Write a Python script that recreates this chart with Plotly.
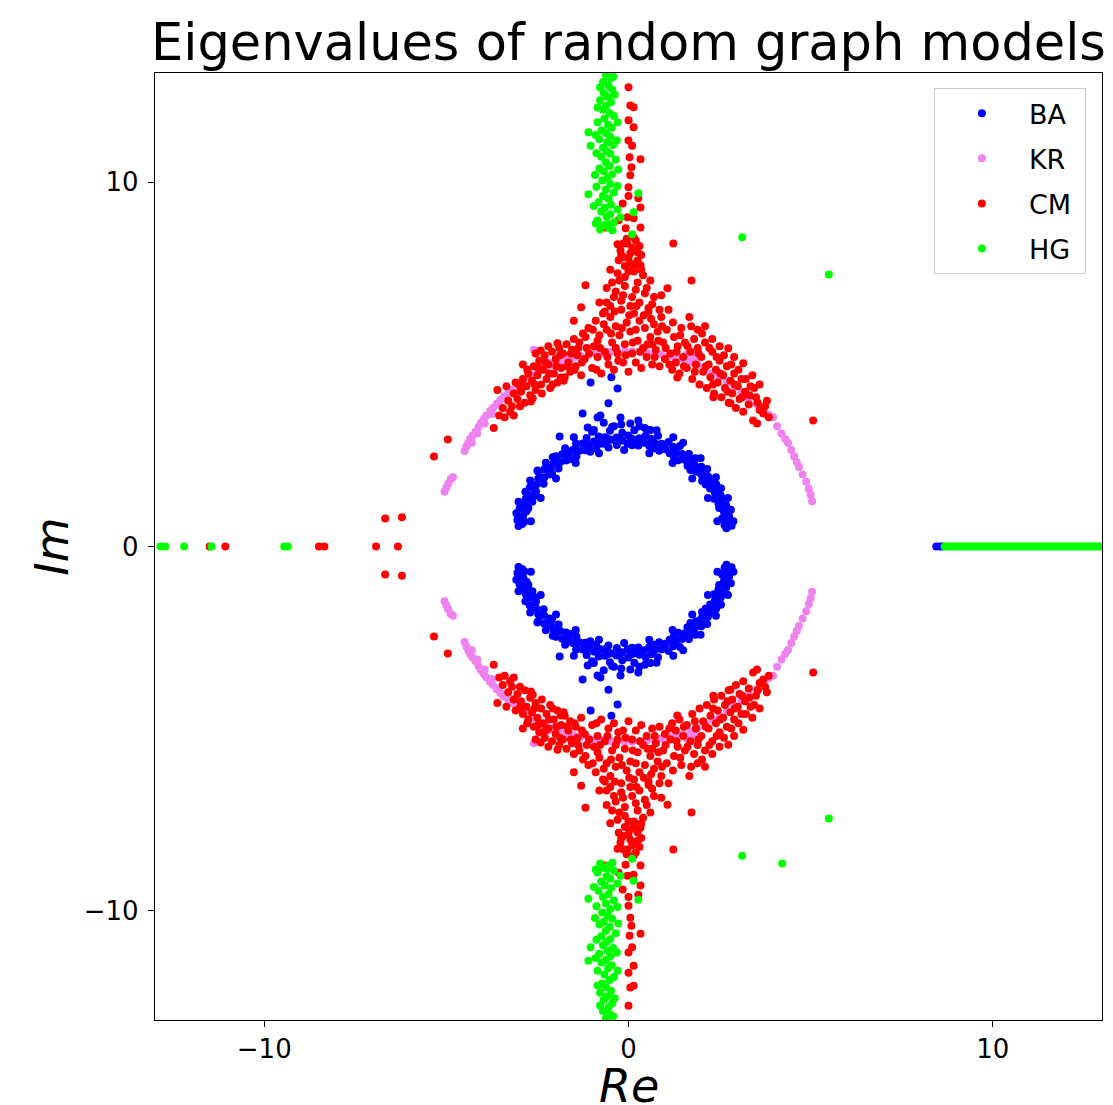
import plotly.graph_objects as go

# Eigenvalues read from the picture. Complex eigenvalues of real matrices come
# in conjugate pairs, so the upper half-plane values are listed and paired with
# their conjugates; real eigenvalues and unpaired points are listed separately.

SERIES = ["BA", "KR", "CM", "HG"]
COLORS = ["blue", "violet", "red", "lime"]

BA_UPPER = [
    (2.69, 0.50), (2.83, 0.57), (2.72, 0.66), (2.88, 0.69), (2.57, 0.77), (2.76, 0.83),
    (2.62, 0.95), (2.81, 1.01), (2.49, 1.06), (2.68, 1.13), (2.55, 1.25), (2.73, 1.33),
    (2.35, 1.31), (2.53, 1.41), (2.37, 1.49), (2.54, 1.60), (2.24, 1.59), (2.41, 1.70),
    (2.24, 1.78), (2.40, 1.90), (2.02, 1.80), (2.18, 1.93), (2.00, 1.98), (2.16, 2.13),
    (1.86, 2.05), (2.00, 2.19), (1.82, 2.23), (1.98, 2.42), (1.62, 2.22), (1.74, 2.38),
    (1.54, 2.38), (1.66, 2.54), (1.36, 2.37), (1.47, 2.54), (1.31, 2.58), (1.41, 2.76),
    (1.13, 2.56), (1.22, 2.74), (1.01, 2.67), (1.10, 2.87), (0.84, 2.63), (0.91, 2.82),
    (0.74, 2.82), (0.81, 3.04), (0.57, 2.76), (0.62, 2.96), (0.43, 2.85), (0.47, 3.04),
    (0.27, 2.77), (0.30, 2.97), (0.14, 2.94), (0.16, 3.19), (-0.02, 2.82), (-0.01, 3.05),
    (-0.17, 2.90), (-0.17, 3.12), (-0.32, 2.79), (-0.33, 2.99), (-0.48, 2.93), (-0.51, 3.18),
    (-0.62, 2.81), (-0.65, 3.00), (-0.77, 2.82), (-0.82, 3.02), (-0.89, 2.69), (-0.95, 2.88),
    (-1.08, 2.79), (-1.15, 2.98), (-1.19, 2.64), (-1.26, 2.83), (-1.35, 2.63), (-1.44, 2.83),
    (-1.43, 2.47), (-1.53, 2.65), (-1.64, 2.53), (-1.74, 2.70), (-1.71, 2.36), (-1.82, 2.53),
    (-1.87, 2.32), (-1.99, 2.48), (-1.92, 2.14), (-2.05, 2.30), (-2.13, 2.16), (-2.27, 2.30),
    (-2.17, 1.98), (-2.31, 2.12), (-2.31, 1.90), (-2.48, 2.05), (-2.33, 1.72), (-2.48, 1.85),
    (-2.54, 1.69), (-2.70, 1.81), (-2.54, 1.51), (-2.71, 1.62), (-2.66, 1.41), (-2.83, 1.50),
    (-2.64, 1.23), (-2.82, 1.31), (-2.84, 1.15), (-3.02, 1.23), (-2.80, 0.97), (-2.99, 1.04),
    (-2.89, 0.85), (-3.08, 0.91), (-2.86, 0.68), (-3.05, 0.73), (-3.02, 0.56), (-2.92, 0.62),
    (2.64, 0.58), (2.47, 1.18), (2.12, 1.70), (1.70, 2.10), (1.25, 2.45), (0.70, 2.70),
    (0.10, 2.78), (-0.55, 2.72), (-1.05, 2.60), (-1.60, 2.40), (-2.10, 2.00), (-2.55, 1.40),
    (-2.75, 1.05),
    (2.76, 0.75), (2.67, 1.04), (2.55, 1.33), (2.39, 1.60), (2.21, 1.86), (2.00, 2.09),
    (1.78, 2.30), (1.52, 2.49), (1.26, 2.64), (0.97, 2.77), (0.68, 2.87), (0.37, 2.94),
    (0.06, 2.97), (-0.25, 2.98), (-0.56, 2.95), (-0.87, 2.88), (-1.16, 2.79), (-1.45, 2.67),
    (-1.72, 2.51), (-1.98, 2.33), (-2.21, 2.12), (-2.42, 1.90), (-2.61, 1.64), (-2.76, 1.38),
    (-2.89, 1.09), (-2.99, 0.80),
    (2.18, 1.33), (1.21, 2.29), (-0.12, 2.65), (0.57, 2.56), (-0.81, 2.56), (-1.45, 2.29),
    (-2.41, 1.33), (1.75, 1.87), (-1.99, 1.87), (2.44, 0.69), (-2.68, 0.69),
    (0.30, 3.30), (-0.20, 3.35), (0.60, 3.20), (-1.00, 3.15), (1.50, 2.85), (-0.45, 3.28),
    (-1.04, 4.50), (-0.47, 4.65), (-0.30, 4.34), (-0.55, 3.93), (-1.26, 3.65), (-0.77, 3.60),
    (0.27, 3.46), (-1.89, 3.02), (0.77, 3.19), (-0.85, 3.54), (-0.68, 3.40), (-0.22, 3.54),
    (0.05, 3.38), (-1.12, 3.27), (-1.50, 3.00), (-2.08, 2.45), (-2.50, 2.09), (1.23, 3.00),
    (1.84, 2.42), (-0.40, 3.30), (0.45, 3.25), (-0.95, 3.20),
]
BA_REAL = [8.45, 8.55, 8.62]

KR_UPPER = [
    (-5.05, 1.50), (-5.00, 1.62), (-4.95, 1.72), (-4.88, 1.85), (-4.82, 1.90),
    (-4.50, 2.62), (-4.45, 2.75), (-4.40, 2.85), (-4.35, 2.95), (-4.28, 3.05), (-4.20, 3.15),
    (-4.12, 3.28), (-4.05, 3.40), (-3.97, 3.50), (-3.90, 3.60), (-3.80, 3.72), (-3.72, 3.80),
    (-3.62, 3.92), (-3.52, 4.02), (-3.42, 4.12), (-3.30, 4.22), (-3.18, 4.30), (-3.05, 4.42),
    (-2.95, 4.50), (-2.80, 4.60), (-2.65, 4.70), (-2.50, 4.78), (-2.30, 4.90), (-2.10, 4.98),
    (-1.90, 5.05), (-1.70, 5.12), (-1.50, 5.18), (-1.30, 5.22), (-1.10, 5.26), (-0.90, 5.30),
    (-0.70, 5.32), (-0.50, 5.34), (-0.30, 5.35), (-0.10, 5.36), (0.10, 5.36), (0.30, 5.35),
    (0.50, 5.33), (0.70, 5.30), (0.90, 5.27), (1.10, 5.22), (1.30, 5.17), (1.50, 5.15),
    (1.70, 5.08), (1.90, 4.98), (2.10, 4.86), (2.30, 4.76), (2.50, 4.65), (2.70, 4.52),
    (2.90, 4.38), (3.10, 4.22), (3.30, 4.08), (3.50, 3.92), (3.70, 3.76), (3.85, 3.62),
    (3.97, 3.55), (4.08, 3.30), (4.20, 3.10), (4.30, 2.95), (4.38, 2.84), (4.47, 2.65),
    (4.55, 2.47), (4.62, 2.32), (4.68, 2.18), (4.78, 1.98), (4.88, 1.78), (4.95, 1.58),
    (5.00, 1.42), (5.04, 1.24),
    (-4.30, 2.85), (-4.15, 3.10), (-3.95, 3.38), (-3.75, 3.64), (-3.55, 3.90), (-3.35, 4.05),
    (-2.60, 5.40), (-2.20, 5.05), (-1.60, 5.28), (1.60, 5.28), (1.80, 5.18),
]

CM_UPPER = [
    # left arm
    (-3.55, 3.60), (-3.45, 3.80), (-3.40, 3.55), (-3.30, 4.00), (-3.20, 3.85), (-3.15, 4.20),
    (-3.05, 4.05), (-3.00, 4.45), (-2.95, 4.25), (-2.90, 4.60), (-2.85, 3.95), (-2.80, 4.40),
    (-2.75, 4.75), (-2.70, 4.15), (-2.65, 4.55), (-2.60, 4.95), (-2.55, 4.30), (-2.50, 4.70),
    (-2.45, 5.10), (-2.40, 4.45), (-2.35, 4.85), (-2.30, 5.25), (-2.25, 4.60), (-2.20, 5.00),
    (-2.15, 4.35), (-2.10, 5.35), (-2.05, 4.75), (-2.00, 5.15), (-1.95, 4.50), (-1.90, 5.45),
    (-1.85, 4.90), (-1.80, 5.30), (-1.75, 4.65), (-1.70, 5.55), (-1.65, 5.05), (-1.60, 4.80),
    (-1.55, 5.40), (-1.50, 5.70), (-1.45, 4.95), (-1.40, 5.25), (-1.35, 5.60), (-1.30, 4.70),
    (-1.25, 5.85), (-1.20, 5.15), (-1.15, 5.45), (-1.10, 6.00), (-3.60, 4.30), (-3.35, 4.40),
    (-2.90, 5.00), (-2.55, 5.30), (-2.20, 5.50), (-3.70, 3.25), (-4.96, 2.94), (-5.34, 2.47),
    (-2.41, 5.38), (-1.95, 5.58), (-1.50, 6.20), (-2.96, 4.29), (-3.15, 3.60), (-2.63, 4.07),
    (-1.86, 4.64), (-1.30, 6.57), (-1.18, 7.17),
    (-3.25, 3.70), (-3.10, 4.50), (-2.98, 3.85), (-2.78, 4.85), (-2.68, 3.98), (-2.58, 4.45),
    (-2.48, 4.90), (-2.38, 4.20), (-2.28, 5.05), (-2.18, 4.75), (-2.08, 4.45), (-1.98, 4.95),
    (-1.88, 5.25), (-1.78, 4.55), (-1.68, 4.95), (-1.58, 5.30), (-1.48, 4.85), (-1.38, 5.45),
    (-1.28, 5.05), (-1.18, 5.75), (-1.08, 5.30),
    # centre
    (-1.00, 4.90), (-0.95, 5.50), (-0.90, 6.20), (-0.85, 5.20), (-0.80, 5.80), (-0.75, 4.75),
    (-0.70, 6.40), (-0.65, 5.35), (-0.60, 5.95), (-0.55, 5.00), (-0.50, 6.30), (-0.45, 5.60),
    (-0.40, 4.85), (-0.35, 6.05), (-0.30, 5.30), (-0.25, 5.80), (-0.20, 6.50), (-0.15, 5.05),
    (-0.10, 5.55), (-0.05, 6.15), (0.00, 4.80), (0.05, 5.90), (0.10, 5.30), (0.15, 6.40),
    (0.20, 5.05), (0.25, 5.65), (0.30, 6.20), (0.35, 4.90), (0.40, 5.45), (0.45, 6.00),
    (0.50, 5.20), (0.55, 6.45), (0.60, 5.75), (0.65, 5.00), (0.70, 6.10), (0.75, 5.40),
    (0.80, 5.90), (0.85, 4.95), (0.90, 6.30), (0.95, 5.60), (1.00, 5.15), (1.05, 5.95),
    (1.10, 6.50), (-0.85, 5.65), (-0.35, 5.45), (0.20, 5.95), (0.65, 5.55), (-0.60, 6.70),
    (-0.98, 5.95), (-0.88, 4.85), (-0.78, 5.45), (-0.68, 6.10), (-0.58, 5.20), (-0.48, 5.85),
    (-0.38, 6.45), (-0.28, 5.10), (-0.18, 6.00), (-0.08, 5.25), (0.02, 6.35), (0.12, 5.60),
    (0.22, 6.60), (0.32, 5.35), (0.42, 6.35), (0.52, 5.55), (0.62, 6.25), (0.72, 5.20),
    (0.82, 5.65), (0.92, 6.05), (1.02, 5.45),
    # spike
    (-0.50, 7.60), (-0.30, 7.50), (-0.10, 7.40), (0.15, 7.55), (0.40, 7.45), (0.60, 7.30),
    (-0.60, 7.10), (-0.35, 7.00), (-0.10, 7.15), (0.20, 7.05), (0.45, 6.95), (0.70, 6.85),
    (-0.80, 6.70), (-0.50, 6.60), (-0.20, 6.75), (0.05, 6.60), (0.30, 6.70), (0.55, 6.55),
    (0.85, 6.50), (0.00, 7.90), (0.25, 7.85), (-0.20, 8.00), (0.10, 8.20), (-0.10, 7.70),
    (0.35, 8.00), (0.90, 6.90), (1.07, 7.09), (1.73, 7.30), (1.67, 6.30), (1.23, 8.32),
    (-0.45, 7.25), (-0.25, 7.30), (0.00, 7.55), (0.25, 7.25), (0.50, 7.10), (-0.15, 6.90),
    (0.10, 6.85), (0.35, 7.60), (-0.40, 6.85), (0.65, 6.65), (-0.65, 6.45), (-0.05, 8.45),
    (0.20, 8.40), (-0.30, 8.30), (0.05, 8.05), (0.30, 8.25), (-0.15, 7.95), (0.15, 7.70),
    # column
    (0.00, 12.61), (0.05, 12.11), (0.14, 12.06), (0.00, 11.70), (0.14, 11.51), (0.00, 11.15),
    (0.10, 11.00), (0.03, 10.69), (0.33, 10.63), (0.08, 10.41), (0.05, 10.19), (0.00, 9.86),
    (0.00, 9.62), (0.27, 9.56), (-0.16, 9.42), (0.33, 9.31), (-0.03, 9.04), (0.14, 9.01),
    (-0.27, 8.96), (0.33, 8.76), (-0.63, 8.76), (-0.08, 8.74), (-0.03, 8.32), (-0.22, 8.13),
    (0.25, 8.08), (-0.27, 7.86), (0.05, 7.77), (0.33, 7.72), (-0.14, 8.32), (0.14, 8.49),
    # right arm
    (1.15, 5.30), (1.20, 4.85), (1.25, 5.75), (1.30, 5.05), (1.35, 5.50), (1.40, 4.75),
    (1.45, 6.00), (1.50, 5.20), (1.55, 5.60), (1.60, 4.90), (1.70, 5.35), (1.75, 4.60),
    (1.80, 5.70), (1.85, 5.00), (1.90, 5.45), (1.95, 4.45), (2.00, 5.20), (2.05, 4.80),
    (2.10, 5.60), (2.15, 4.35), (2.20, 5.00), (2.25, 4.65), (2.30, 5.35), (2.35, 4.20),
    (2.40, 4.85), (2.45, 4.50), (2.50, 5.10), (2.55, 4.10), (2.60, 4.70), (2.65, 4.35),
    (2.70, 4.95), (2.75, 3.95), (2.80, 4.55), (2.85, 4.20), (2.90, 4.75), (2.95, 3.80),
    (3.00, 4.40), (3.05, 4.05), (3.10, 4.60), (3.15, 3.70), (3.20, 4.25), (3.30, 3.90),
    (3.35, 4.40), (3.42, 3.46), (3.50, 4.10), (3.60, 3.75), (3.70, 3.65), (3.80, 4.00),
    (3.53, 3.38), (2.10, 6.05), (2.30, 5.70), (2.50, 5.50), (2.74, 5.44), (2.90, 5.20),
    (3.15, 5.03), (3.40, 4.70), (3.60, 4.45), (1.90, 5.95), (1.34, 4.64), (2.33, 4.10),
    (2.80, 3.93), (5.07, 3.46),
    (1.12, 5.00), (1.22, 6.15), (1.32, 5.35), (1.42, 5.80), (1.52, 4.95), (1.62, 5.50),
    (1.72, 6.05), (1.82, 4.80), (1.92, 5.30), (2.02, 5.85), (2.12, 4.95), (2.22, 5.45),
    (2.32, 4.45), (2.42, 5.20), (2.52, 4.75), (2.62, 5.25), (2.72, 4.25), (2.82, 5.00),
    (2.92, 4.45), (3.02, 4.85), (3.12, 4.10), (3.22, 4.60), (3.32, 4.15), (3.45, 4.35),
    (3.55, 3.95), (3.75, 3.85), (3.85, 3.55),
    # near the real axis
    (-6.68, 0.77), (-6.22, 0.80),
]
CM_REAL = [-11.50, -11.07, -8.50, -8.35, -6.93, -6.33]

HG_UPPER = [
    (-0.62, 12.95), (-0.50, 12.85), (-0.70, 12.75), (-0.55, 12.65), (-0.45, 12.55),
    (-0.68, 12.45), (-0.58, 12.35), (-0.78, 12.25), (-0.48, 12.20), (-0.62, 12.10),
    (-0.72, 12.00), (-0.52, 11.90), (-0.40, 11.82), (-0.66, 11.75), (-0.85, 11.65),
    (-0.56, 11.58), (-0.46, 11.50), (-0.74, 11.42), (-0.62, 11.35), (-0.50, 11.25),
    (-0.80, 11.18), (-0.58, 11.10), (-0.42, 11.02), (-0.70, 10.95), (-0.60, 10.85),
    (-0.50, 10.78), (-0.75, 10.70), (-0.35, 10.62), (-0.62, 10.55), (-0.52, 10.45),
    (-0.80, 10.38), (-0.68, 10.30), (-0.45, 10.22), (-0.58, 10.12), (-0.72, 10.05),
    (-0.50, 9.95), (-0.88, 9.88), (-0.62, 9.80), (-0.40, 9.72), (-0.70, 9.62),
    (-0.55, 9.55), (-0.82, 9.45), (-0.48, 9.38), (-0.65, 9.30), (-0.75, 9.20),
    (-0.50, 9.12), (-0.60, 9.05), (-0.85, 8.95), (-0.40, 8.90), (-0.68, 8.82),
    (-0.55, 8.75), (-0.78, 8.70),
    (-0.42, 12.90), (-0.78, 12.60), (-0.38, 12.40), (-0.85, 12.05), (-0.30, 11.65),
    (-0.90, 11.30), (-0.32, 11.15), (-0.88, 10.80), (-0.28, 10.35), (-0.92, 10.20),
    (-0.30, 9.90), (-0.95, 9.35), (-0.30, 9.25), (-0.58, 8.85),
    (-1.10, 11.37), (-1.04, 11.00), (-1.10, 9.67), (0.27, 9.70), (0.14, 9.18),
    (0.10, 8.57), (-0.22, 9.04), (-0.90, 8.87), (-0.44, 8.68),
    (3.12, 8.49), (5.50, 7.47),
]
HG_LOWER_EXTRA = [(4.22, -8.70)]
HG_REAL = [
    -12.85, -12.72, -12.20, -11.45, -9.45, -9.35,
    8.68, 8.74, 8.80, 8.86, 8.93, 9.00, 9.06, 9.12, 9.19, 9.26, 9.32, 9.38, 9.45, 9.52,
    9.58, 9.64, 9.71, 9.78, 9.84, 9.90, 9.97, 10.04, 10.10, 10.16, 10.23, 10.30, 10.36,
    10.42, 10.49, 10.56, 10.62, 10.68, 10.75, 10.82, 10.88, 10.94, 11.01, 11.08, 11.14,
    11.20, 11.27, 11.34, 11.40, 11.46, 11.53, 11.60, 11.66, 11.72, 11.79, 11.86, 11.92,
    11.98, 12.05, 12.12, 12.18, 12.24, 12.31, 12.38, 12.44, 12.50, 12.57, 12.64, 12.70,
    12.76, 12.83, 12.90, 12.96, 13.02,
]

DATA = {
    "BA": (BA_UPPER, BA_REAL, []),
    "KR": (KR_UPPER, [], []),
    "CM": (CM_UPPER, CM_REAL, []),
    "HG": (HG_UPPER, HG_REAL, HG_LOWER_EXTRA),
}

X_TICKS = [-10, 0, 10]
X_TICK_TEXT = ["\u221210", "0", "10"]
Y_TICKS = [-10, 0, 10]
Y_TICK_TEXT = ["\u221210", "0", "10"]

fig = go.Figure()
for name, color in zip(SERIES, COLORS):
    upper, real, extra = DATA[name]
    xs = [p[0] for p in upper] + [p[0] for p in upper] + list(real) + [p[0] for p in extra]
    ys = [p[1] for p in upper] + [-p[1] for p in upper] + [0.0] * len(real) + [p[1] for p in extra]
    fig.add_trace(go.Scatter(
        x=xs, y=ys, mode="markers", name=name + "\u00a0", legendgroup=name,
        marker=dict(color=color, size=8, line=dict(width=0)),
    ))

FONT = "DejaVu Sans"
fig.update_layout(
    width=1113, height=1105,
    margin=dict(l=155, r=11, t=73, b=85, autoexpand=False),
    paper_bgcolor="white", plot_bgcolor="white",
    font=dict(family=FONT, color="black"),
    title=dict(text="Eigenvalues of random graph models", font=dict(family=FONT, size=51, color="black"),
               x=0.5, xref="paper", xanchor="center", y=1 - 42 / 1105, yref="container", yanchor="middle"),
    legend=dict(x=0.983, y=0.984, xanchor="right", yanchor="top", bgcolor="white",
                bordercolor="#cccccc", borderwidth=1, font=dict(family=FONT, size=27),
                tracegroupgap=7, itemwidth=84),
    showlegend=True,
    annotations=[dict(text="<i>Re</i>", xref="paper", yref="paper", x=0.5, y=-0.039,
                      xanchor="center", yanchor="top", showarrow=False,
                      font=dict(family=FONT, size=46, color="black"))],
)
axis_common = dict(showgrid=False, zeroline=False, showline=True, mirror=True, linecolor="black",
                   linewidth=1.3, ticks="outside", ticklen=6, tickwidth=1.3, tickcolor="black",
                   automargin=False, tickfont=dict(family=FONT, size=26, color="black"))
fig.update_xaxes(range=[-13, 13], tickvals=X_TICKS, ticktext=X_TICK_TEXT, **axis_common)
fig.update_yaxes(range=[-13, 13], tickvals=Y_TICKS, ticktext=Y_TICK_TEXT, ticklabelstandoff=4,
                 title=dict(text="<i>Im</i>", font=dict(family=FONT, size=46), standoff=0), **axis_common)

fig.write_html("out.html", config={"displayModeBar": False},
               post_script="document.body.style.margin='0';document.body.style.overflow='hidden';")
